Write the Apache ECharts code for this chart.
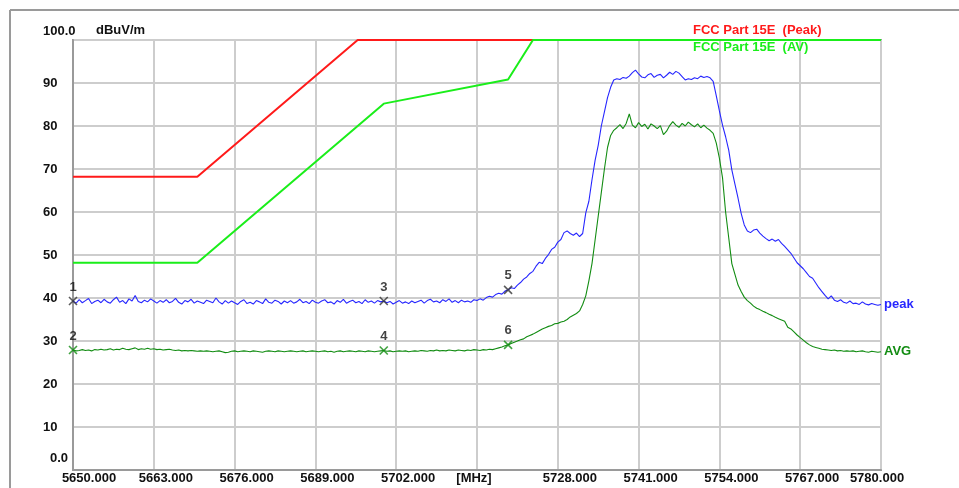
<!DOCTYPE html>
<html>
<head>
<meta charset="utf-8">
<title>FCC Part 15E band-edge scan</title>
<script src="https://cdn.jsdelivr.net/npm/echarts@6/dist/echarts.min.js"></script>
<style>
  html, body { margin: 0; padding: 0; background: #ffffff; overflow: hidden; }
  #chart { width: 959px; height: 488px; }
</style>
</head>
<body>
<div id="chart"></div>
<script>
// Sweep definition: one reading every 0.5 MHz starting at 5650 MHz
const FREQ_START = 5650;
const FREQ_STEP = 0.5;

// Peak detector trace, dBuV/m (10 readings = 5 MHz per row)
const peakTrace = [
  39.3, 38.8, 39.6, 38.9, 39.4, 39.9, 38.7, 39.2, 39.5, 38.9, // 5650
  39.7, 39.1, 38.8, 39.6, 40.2, 39.0, 39.4, 38.7, 39.8, 39.3, // 5655
  40.6, 39.2, 38.9, 39.5, 39.1, 39.8, 39.3, 38.8, 39.4, 39.0, // 5660
  39.6, 38.9, 39.2, 39.9, 39.0, 38.6, 39.4, 39.1, 39.7, 38.8, // 5665
  39.3, 39.0, 38.7, 39.5, 39.2, 38.9, 40.0, 39.1, 38.6, 39.4, // 5670
  38.8, 39.3, 38.9, 38.5, 39.2, 39.6, 38.7, 39.0, 38.6, 39.4, // 5675
  39.1, 38.7, 39.8, 39.0, 38.8, 39.5, 39.2, 38.6, 39.3, 38.9, // 5680
  39.4, 38.8, 39.1, 39.7, 38.9, 39.2, 38.7, 39.5, 39.0, 38.8, // 5685
  39.3, 39.6, 38.9, 39.1, 38.6, 39.4, 39.0, 39.7, 38.8, 39.2, // 5690
  39.5, 38.9, 39.2, 38.7, 39.6, 39.0, 39.3, 38.8, 39.4, 39.1, // 5695
  39.3, 38.9, 39.2, 38.6, 39.0, 39.4, 38.8, 39.1, 38.7, 39.3, // 5700
  38.9, 39.2, 39.5, 38.8, 39.4, 39.7, 39.1, 39.3, 38.9, 39.6, // 5705
  39.2, 39.8, 39.0, 39.4, 38.9, 39.5, 39.1, 39.3, 39.0, 39.6, // 5710
  39.4, 39.8, 39.5, 40.1, 40.4, 40.2, 40.8, 41.1, 40.9, 41.6, // 5715
  41.9, 42.4, 42.2, 43.0, 43.6, 44.4, 44.9, 45.7, 46.2, 47.4, // 5720
  48.3, 48.0, 49.2, 50.1, 51.3, 51.8, 53.0, 53.6, 55.2, 55.6, // 5725
  55.0, 54.6, 55.1, 54.3, 55.0, 59.8, 62.5, 67.5, 72.0, 75.5, // 5730
  80.0, 83.3, 86.6, 89.0, 90.7, 91.0, 90.8, 91.3, 91.1, 91.6, // 5735
  92.4, 93.0, 92.1, 91.4, 91.2, 91.9, 92.2, 91.3, 91.8, 92.0, // 5740
  91.2, 91.8, 92.5, 92.0, 92.7, 92.3, 91.5, 90.7, 91.0, 90.8, // 5745
  91.2, 91.0, 91.6, 91.3, 91.5, 91.2, 90.4, 87.0, 83.5, 80.2, // 5750
  77.5, 74.4, 69.8, 66.5, 63.2, 59.7, 57.0, 55.6, 55.2, 55.8, // 5755
  56.0, 55.1, 54.4, 53.8, 53.3, 53.7, 53.2, 53.6, 52.7, 52.0, // 5760
  51.2, 50.4, 49.3, 48.2, 47.5, 46.8, 45.9, 45.0, 44.6, 43.5, // 5765
  42.4, 41.5, 40.6, 39.8, 40.5, 39.5, 39.2, 39.6, 39.0, 38.8, // 5770
  39.3, 38.7, 38.8, 38.5, 39.1, 38.6, 38.4, 38.7, 38.5, 38.3, // 5775
  38.5                                                        // 5780
];

// Average detector trace, dBuV/m
const avgTrace = [
  27.9, 27.7, 27.8, 28.0, 27.8, 27.9, 27.7, 28.0, 27.9, 28.1, // 5650
  27.9, 28.0, 28.2, 27.9, 28.1, 28.0, 28.3, 28.1, 28.0, 28.2, // 5655
  28.4, 28.0, 28.2, 28.1, 28.3, 28.1, 28.2, 28.0, 28.1, 27.9, // 5660
  28.0, 28.1, 27.9, 27.8, 27.9, 27.7, 27.8, 27.7, 27.8, 27.7, // 5665
  27.6, 27.7, 27.6, 27.7, 27.6, 27.5, 27.6, 27.7, 27.5, 27.3, // 5670
  27.4, 27.6, 27.7, 27.5, 27.6, 27.7, 27.6, 27.5, 27.7, 27.6, // 5675
  27.5, 27.4, 27.6, 27.7, 27.6, 27.5, 27.7, 27.6, 27.5, 27.6, // 5680
  27.7, 27.6, 27.5, 27.6, 27.7, 27.5, 27.6, 27.7, 27.6, 27.5, // 5685
  27.6, 27.7, 27.5, 27.6, 27.4, 27.6, 27.7, 27.5, 27.6, 27.7, // 5690
  27.6, 27.5, 27.7, 27.6, 27.5, 27.7, 27.6, 27.5, 27.6, 27.7, // 5695
  27.8, 27.6, 27.7, 27.5, 27.6, 27.7, 27.6, 27.7, 27.5, 27.6, // 5700
  27.7, 27.6, 27.8, 27.7, 27.6, 27.8, 27.7, 27.9, 27.7, 27.8, // 5705
  27.7, 27.9, 27.8, 27.7, 27.9, 27.8, 27.7, 27.9, 27.8, 28.0, // 5710
  27.9, 27.8, 28.0, 27.9, 28.1, 28.0, 28.2, 28.4, 28.6, 28.9, // 5715
  29.1, 29.4, 29.7, 30.0, 30.3, 30.5, 31.0, 31.3, 31.6, 32.0, // 5720
  32.4, 32.8, 33.1, 33.4, 33.6, 34.0, 34.1, 34.4, 34.6, 35.0, // 5725
  35.6, 36.0, 36.4, 37.0, 38.5, 40.5, 44.0, 48.0, 53.5, 59.0, // 5730
  64.5, 70.0, 75.0, 77.8, 79.0, 79.6, 80.3, 79.4, 80.6, 82.8, // 5735
  80.2, 79.6, 80.8, 79.9, 80.4, 79.3, 80.5, 80.0, 79.4, 80.1, // 5740
  78.0, 78.8, 80.1, 81.0, 80.2, 79.7, 80.6, 80.0, 80.9, 80.3, // 5745
  79.8, 80.5, 79.6, 80.2, 79.5, 79.0, 78.3, 76.0, 72.5, 68.0, // 5750
  60.0, 54.0, 48.0, 45.5, 43.0, 41.5, 40.2, 39.4, 38.8, 38.1, // 5755
  37.6, 37.3, 36.9, 36.6, 36.2, 35.9, 35.5, 35.2, 34.9, 34.6, // 5760
  33.2, 32.8, 32.1, 31.4, 30.8, 30.2, 29.6, 29.1, 28.7, 28.5, // 5765
  28.3, 28.1, 28.0, 27.9, 27.8, 27.9, 27.7, 27.8, 27.6, 27.7, // 5770
  27.6, 27.7, 27.5, 27.6, 27.7, 27.5, 27.4, 27.6, 27.5, 27.4, // 5775
  27.5                                                        // 5780
];

// Limit lines [MHz, dBuV/m], held at the top of the scale
const peakLimit = [[5650, 68.2], [5670, 68.2], [5695.8, 100], [5780, 100]];
const avgLimit = [[5650, 48.2], [5670, 48.2], [5700, 85.2], [5720, 90.8], [5724, 100], [5780, 100]];

// Marker frequencies (MHz); markers 1/3/5 sit on peak, 2/4/6 on average
const markerFreqs = [5650, 5700, 5720];
const peakMarkerNames = ['1', '3', '5'];
const avgMarkerNames = ['2', '4', '6'];

// Axis ticks
const freqTicks = [5650, 5663, 5676, 5689, 5702, 5715, 5728, 5741, 5754, 5767, 5780];
const unitTickFreq = 5715;
const levelTicks = [0, 10, 20, 30, 40, 50, 60, 70, 80, 90, 100];

const legendPeak = 'FCC Part 15E  (Peak)';
const legendAv = 'FCC Part 15E  (AV)';
const unitLabel = 'dBuV/m';

const FONT = '"Liberation Sans", Arial, sans-serif';
const SPAN = freqTicks[freqTicks.length - 1] - freqTicks[0];
const TICK_STEP = freqTicks[1] - freqTicks[0];

// Frequencies are plotted as offsets from the sweep start so ticks land on grid lines
const toOffset = f => +(f - FREQ_START).toFixed(3);
const traceData = arr => arr.map((v, i) => [toOffset(FREQ_START + i * FREQ_STEP), v]);
const limitData = arr => arr.map(p => [toOffset(p[0]), p[1]]);
const markerData = (arr, names) => markerFreqs.map((f, k) => {
  const idx = Math.round((f - FREQ_START) / FREQ_STEP);
  return { value: [toOffset(f), arr[idx]], name: names[k] };
});

const crossSymbol = 'path://M0,0L10,10M10,0L0,10';
const labelFont = { fontFamily: FONT, fontSize: 13, fontWeight: 'bold', color: '#111' };

const chart = echarts.init(document.getElementById('chart'), null, { renderer: 'canvas' });

chart.setOption({
  animation: false,
  backgroundColor: '#ffffff',
  grid: {
    left: 73, right: 78, top: 40, bottom: 18,
    show: true, borderColor: '#9a9a9a', borderWidth: 2, backgroundColor: 'transparent'
  },
  xAxis: {
    type: 'value',
    min: 0, max: SPAN, interval: TICK_STEP,
    axisLine: { show: true, lineStyle: { color: '#9a9a9a', width: 2 } },
    axisTick: { show: false },
    splitLine: { show: true, lineStyle: { color: '#cdcdcd', width: 2 } },
    axisLabel: {
      margin: 2,
      showMinLabel: true, showMaxLabel: true, hideOverlap: false,
      ...labelFont,
      formatter: v => {
        const f = Math.round(FREQ_START + v);
        if (f === unitTickFreq) return '{u|[MHz]}';
        if (f === freqTicks[0]) return '{a|' + f.toFixed(3) + '}';
        if (f === freqTicks[freqTicks.length - 1]) return '{z|' + f.toFixed(3) + '}';
        return '{n|' + f.toFixed(3) + '}';
      },
      rich: {
        n: { ...labelFont, padding: [0, 0, 0, 24] },
        a: { ...labelFont, padding: [0, 0, 0, 32] },
        u: { ...labelFont, padding: [0, 6, 0, 0] },
        z: { ...labelFont, padding: [0, 8, 0, 0] }
      }
    }
  },
  yAxis: {
    type: 'value',
    min: levelTicks[0], max: levelTicks[levelTicks.length - 1], interval: levelTicks[1] - levelTicks[0],
    name: unitLabel,
    nameLocation: 'end',
    nameGap: 10,
    nameTextStyle: { ...labelFont, align: 'left', verticalAlign: 'middle', padding: [0, 0, 0, 23] },
    axisLine: { show: true, lineStyle: { color: '#9a9a9a', width: 2 } },
    axisTick: { show: false },
    splitLine: { show: true, lineStyle: { color: '#cdcdcd', width: 2 } },
    axisLabel: {
      margin: 30,
      align: 'left',
      showMinLabel: true, showMaxLabel: true,
      ...labelFont,
      formatter: v => {
        if (v === levelTicks[0]) return '{lo|0.0}';
        if (v === levelTicks[levelTicks.length - 1]) return '{hi|100.0}';
        return '{n|' + v + '}';
      },
      rich: {
        n: { ...labelFont },
        lo: { ...labelFont, padding: [0, 0, 24, 7] },
        hi: { ...labelFont, padding: [0, 0, 17, 0] }
      }
    }
  },
  series: [
    {
      name: legendPeak, type: 'line', data: limitData(peakLimit),
      showSymbol: false, symbol: 'none', z: 3,
      lineStyle: { color: '#ff1a1a', width: 2 }
    },
    {
      name: legendAv, type: 'line', data: limitData(avgLimit),
      showSymbol: false, symbol: 'none', z: 4,
      lineStyle: { color: '#1aee1a', width: 2 }
    },
    {
      name: 'peak', type: 'line', data: traceData(peakTrace),
      showSymbol: false, symbol: 'none', z: 5,
      lineStyle: { color: '#2626ff', width: 1.1 },
      endLabel: {
        show: true, formatter: 'peak', distance: 3,
        fontFamily: FONT, fontSize: 13, fontWeight: 'bold', color: '#2626ff'
      }
    },
    {
      name: 'AVG', type: 'line', data: traceData(avgTrace),
      showSymbol: false, symbol: 'none', z: 5,
      lineStyle: { color: '#128c12', width: 1.1 },
      endLabel: {
        show: true, formatter: 'AVG', distance: 3,
        fontFamily: FONT, fontSize: 13, fontWeight: 'bold', color: '#128c12'
      }
    },
    {
      name: 'peak markers', type: 'scatter', data: markerData(peakTrace, peakMarkerNames),
      symbol: crossSymbol, symbolSize: 8, z: 6,
      itemStyle: { color: 'none', borderColor: '#333333', borderWidth: 1.6 },
      label: {
        show: true, position: 'top', distance: 1, formatter: p => p.name,
        fontFamily: FONT, fontSize: 13, fontWeight: 'bold', color: '#111'
      }
    },
    {
      name: 'avg markers', type: 'scatter', data: markerData(avgTrace, avgMarkerNames),
      symbol: crossSymbol, symbolSize: 8, z: 6,
      itemStyle: { color: 'none', borderColor: '#128c12', borderWidth: 1.6 },
      label: {
        show: true, position: 'top', distance: 1, formatter: p => p.name,
        fontFamily: FONT, fontSize: 13, fontWeight: 'bold', color: '#111'
      }
    }
  ],
  graphic: [
    // outer frame of the printout (top and left edges only)
    { type: 'line', silent: true, shape: { x1: 10, y1: 10, x2: 959, y2: 10 }, style: { stroke: '#9a9a9a', lineWidth: 2, lineCap: 'butt' } },
    { type: 'line', silent: true, shape: { x1: 10, y1: 10, x2: 10, y2: 488 }, style: { stroke: '#9a9a9a', lineWidth: 2, lineCap: 'butt' } },
    // limit line captions
    { type: 'text', silent: true, left: 693, top: 24, z: 10,
      style: { text: legendPeak, fill: '#ff1a1a', font: 'bold 13px ' + FONT } },
    { type: 'text', silent: true, left: 693, top: 41, z: 10,
      style: { text: legendAv, fill: '#1aee1a', font: 'bold 13px ' + FONT } }
  ]
});
</script>
</body>
</html>
